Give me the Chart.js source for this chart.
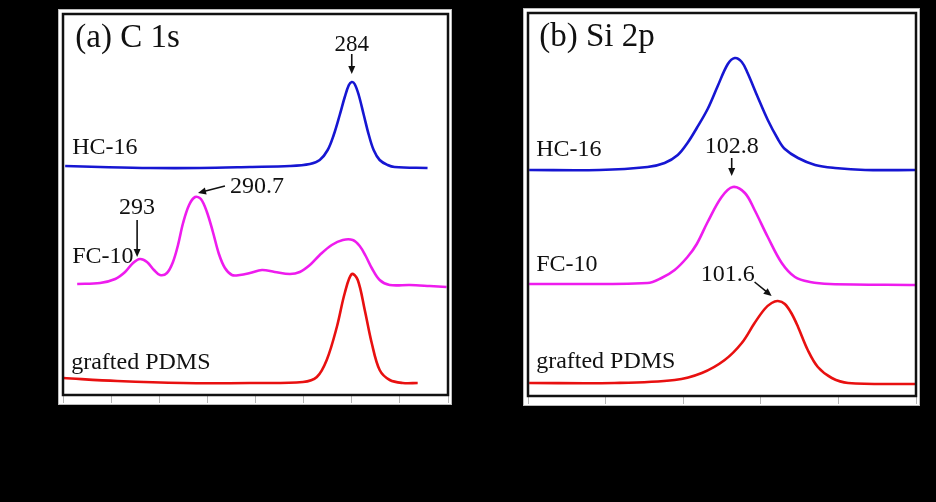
<!DOCTYPE html>
<html lang="en">
<head>
<meta charset="UTF-8">
<title>XPS C 1s and Si 2p spectra</title>
<script src="https://cdn.jsdelivr.net/npm/chart.js"></script>
<style>
  html, body { margin: 0; padding: 0; background: #000; overflow: hidden; }
  canvas { position: absolute; }
  #chartA { left: 43px; top: 4px; }
  #chartB { left: 508px; top: 3px; }
</style>
</head>
<body>
<canvas id="chartA" width="425" height="498"></canvas>
<canvas id="chartB" width="428" height="499"></canvas>
<script>
// ---- panel (a) C 1s : binding energy (eV) / offset intensity (a.u.)
const c1sHcX = [295.91, 294.46, 292.38, 290.31, 288.23, 286.57, 285.74, 285.33, 285.00, 284.75, 284.50, 284.29, 284.12, 284.00, 283.88, 283.71, 283.50, 283.29, 283.09, 282.84, 282.51, 282.22, 280.85];
const c1sHcY = [229, 228, 227, 227, 228, 229, 231, 235, 245, 260, 280, 298, 310, 313, 311, 300, 280, 260, 245, 235, 230, 228, 227];

const c1sFcX = [295.41, 294.46, 293.83, 293.42, 293.09, 292.80, 292.51, 292.22, 291.97, 291.68, 291.43, 291.22, 291.01, 290.76, 290.51, 290.27, 290.02, 289.77, 289.52, 289.27, 288.98, 288.65, 288.23, 287.73, 287.20, 286.57, 286.16, 285.74, 285.33, 284.83, 284.37, 283.96, 283.67, 283.42, 283.17, 282.84, 282.42, 281.59, 280.76, 280.06];
const c1sFcY = [111, 112, 116, 123, 132, 136, 133, 125, 120, 122, 133, 150, 172, 190, 198, 196, 183, 163, 141, 127, 120, 120, 122, 125, 123, 121, 123, 130, 140, 150, 155, 155, 149, 139, 127, 115, 110, 110, 109, 108];

const c1sPdmsX = [295.99, 293.75, 291.01, 288.23, 286.03, 285.45, 285.04, 284.62, 284.29, 284.00, 283.75, 283.46, 283.17, 282.84, 282.42, 281.88, 281.26];
const c1sPdmsY = [17, 14, 12, 12, 13, 18, 35, 68, 102, 121, 115, 85, 52, 25, 15, 12, 12];

// ---- panel (b) Si 2p
const si2pHcX = [107.97, 106.16, 104.92, 104.48, 104.14, 103.89, 103.65, 103.37, 103.11, 102.85, 102.67, 102.49, 102.34, 102.08, 101.82, 101.56, 101.38, 101.04, 100.60, 100.09, 99.31, 98.02];
const si2pHcY = [226, 226, 229, 233, 241, 253, 268, 287, 310, 332, 338, 334, 323, 299, 276, 257, 247, 238, 231, 228, 226, 226];

const si2pFcX = [107.97, 104.92, 104.56, 104.22, 103.89, 103.65, 103.37, 103.01, 102.72, 102.41, 102.16, 101.82, 101.46, 101.12, 100.73, 100.22, 98.02];
const si2pFcY = [112, 113, 118, 126, 139, 152, 174, 199, 209, 203, 186, 159, 133, 119, 114, 112, 111];

const si2pPdmsX = [107.97, 105.77, 104.22, 103.52, 102.93, 102.49, 102.16, 101.90, 101.72, 101.56, 101.38, 101.20, 101.04, 100.79, 100.53, 100.17, 99.75, 98.02];
const si2pPdmsY = [13, 13, 16, 23, 36, 53, 73, 87, 93, 95, 92, 82, 69, 46, 29, 18, 13, 12];

const seriesNames = ['HC-16', 'FC-10', 'grafted PDMS'];
const seriesColors = ['#1616d2', '#ee1cee', '#e81010'];

// text labels and arrows, in data coordinates
const c1sLabels = [
  { text: '(a) C 1s', x: 295.49, y: 357, size: 33, align: 'left' },
  { text: '284', x: 284.0, y: 350, size: 23, align: 'center' },
  { text: 'HC-16', x: 295.62, y: 247, size: 24, align: 'left' },
  { text: '290.7', x: 289.06, y: 208, size: 24, align: 'left' },
  { text: '293', x: 292.92, y: 187, size: 24, align: 'center' },
  { text: 'FC-10', x: 295.62, y: 138, size: 24, align: 'left' },
  { text: 'grafted PDMS', x: 295.66, y: 32, size: 24, align: 'left' }
];
const c1sArrows = [
  { x1: 284.0, y1: 341, x2: 284.0, y2: 321 },
  { x1: 289.27, y1: 209, x2: 290.39, y2: 202 },
  { x1: 292.92, y1: 175, x2: 292.92, y2: 138 }
];
const si2pLabels = [
  { text: '(b) Si 2p', x: 107.71, y: 359, size: 33, align: 'left' },
  { text: 'HC-16', x: 107.79, y: 246, size: 24, align: 'left' },
  { text: '102.8', x: 102.75, y: 249, size: 24, align: 'center' },
  { text: 'FC-10', x: 107.79, y: 131, size: 24, align: 'left' },
  { text: '101.6', x: 102.85, y: 121, size: 24, align: 'center' },
  { text: 'grafted PDMS', x: 107.79, y: 34, size: 24, align: 'left' }
];
const si2pArrows = [
  { x1: 102.75, y1: 238, x2: 102.75, y2: 220 },
  { x1: 102.16, y1: 114, x2: 101.72, y2: 100 }
];

const FONT = '"Liberation Serif", "DejaVu Serif", serif';

// white panel with black frame behind the plot
const panelPlugin = {
  id: 'panel',
  beforeDraw(chart) {
    const { ctx, chartArea: a } = chart;
    ctx.save();
    ctx.fillStyle = '#fff';
    ctx.fillRect(a.left - 5, a.top - 5, a.width + 9, a.height + 15);
    ctx.strokeStyle = '#bbb';
    ctx.lineWidth = 1;
    ctx.strokeRect(a.left - 4.5, a.top - 4.5, a.width + 8, a.height + 14);
    ctx.restore();
  },
  afterDraw(chart) {
    const { ctx, chartArea: a } = chart;
    ctx.save();
    ctx.strokeStyle = '#111';
    ctx.lineWidth = 2.5;
    ctx.strokeRect(a.left, a.top, a.width, a.height);
    ctx.restore();
  }
};

const notesPlugin = {
  id: 'notes',
  afterDatasetsDraw(chart, args, opts) {
    const { ctx } = chart;
    const xs = chart.scales.x, ys = chart.scales.y;
    ctx.save();
    ctx.fillStyle = '#111';
    ctx.textBaseline = 'middle';
    (opts.labels || []).forEach(l => {
      ctx.font = l.size + 'px ' + FONT;
      ctx.textAlign = l.align;
      ctx.fillText(l.text, xs.getPixelForValue(l.x), ys.getPixelForValue(l.y));
    });
    ctx.strokeStyle = '#111';
    ctx.lineWidth = 1.6;
    (opts.arrows || []).forEach(ar => {
      const x1 = xs.getPixelForValue(ar.x1), y1 = ys.getPixelForValue(ar.y1);
      const x2 = xs.getPixelForValue(ar.x2), y2 = ys.getPixelForValue(ar.y2);
      const ang = Math.atan2(y2 - y1, x2 - x1);
      const hl = 8, hw = 3.5;
      ctx.beginPath();
      ctx.moveTo(x1, y1);
      ctx.lineTo(x2 - Math.cos(ang) * hl * 0.6, y2 - Math.sin(ang) * hl * 0.6);
      ctx.stroke();
      ctx.beginPath();
      ctx.moveTo(x2, y2);
      ctx.lineTo(x2 - Math.cos(ang) * hl - Math.sin(ang) * hw, y2 - Math.sin(ang) * hl + Math.cos(ang) * hw);
      ctx.lineTo(x2 - Math.cos(ang) * hl + Math.sin(ang) * hw, y2 - Math.sin(ang) * hl - Math.cos(ang) * hw);
      ctx.closePath();
      ctx.fill();
    });
    ctx.restore();
  }
};

function toPoints(xs, ys) {
  return xs.map((x, i) => ({ x: x, y: ys[i] }));
}

function makePanel(id, curves, xMin, xMax, yMax, axisH, labels, arrows) {
  const datasets = curves.map((c, i) => ({
    label: seriesNames[i],
    data: toPoints(c[0], c[1]),
    borderColor: seriesColors[i],
    borderWidth: 2.6,
    pointRadius: 0,
    fill: false,
    tension: 0.35
  }));
  return new Chart(document.getElementById(id), {
    type: 'line',
    data: { datasets: datasets },
    options: {
      responsive: false,
      animation: false,
      layout: { padding: { left: 20, right: 20, top: 10, bottom: 0 } },
      scales: {
        x: {
          type: 'linear',
          reverse: true,
          min: xMin,
          max: xMax,
          ticks: { stepSize: 2, color: '#000', font: { family: FONT, size: 16 } },
          grid: { drawOnChartArea: false, drawTicks: true, tickLength: 8, color: '#b5b5b5' },
          border: { display: false },
          afterFit(scale) { scale.height = axisH; }
        },
        y: { display: false, min: 0, max: yMax }
      },
      plugins: {
        legend: { display: false },
        tooltip: { enabled: false },
        notes: { labels: labels, arrows: arrows }
      }
    },
    plugins: [panelPlugin, notesPlugin]
  });
}

makePanel('chartA',
  [[c1sHcX, c1sHcY], [c1sFcX, c1sFcY], [c1sPdmsX, c1sPdmsY]],
  280, 296, 381, 107, c1sLabels, c1sArrows);

makePanel('chartB',
  [[si2pHcX, si2pHcY], [si2pFcX, si2pFcY], [si2pPdmsX, si2pPdmsY]],
  98, 108, 383, 106, si2pLabels, si2pArrows);
</script>
</body>
</html>
